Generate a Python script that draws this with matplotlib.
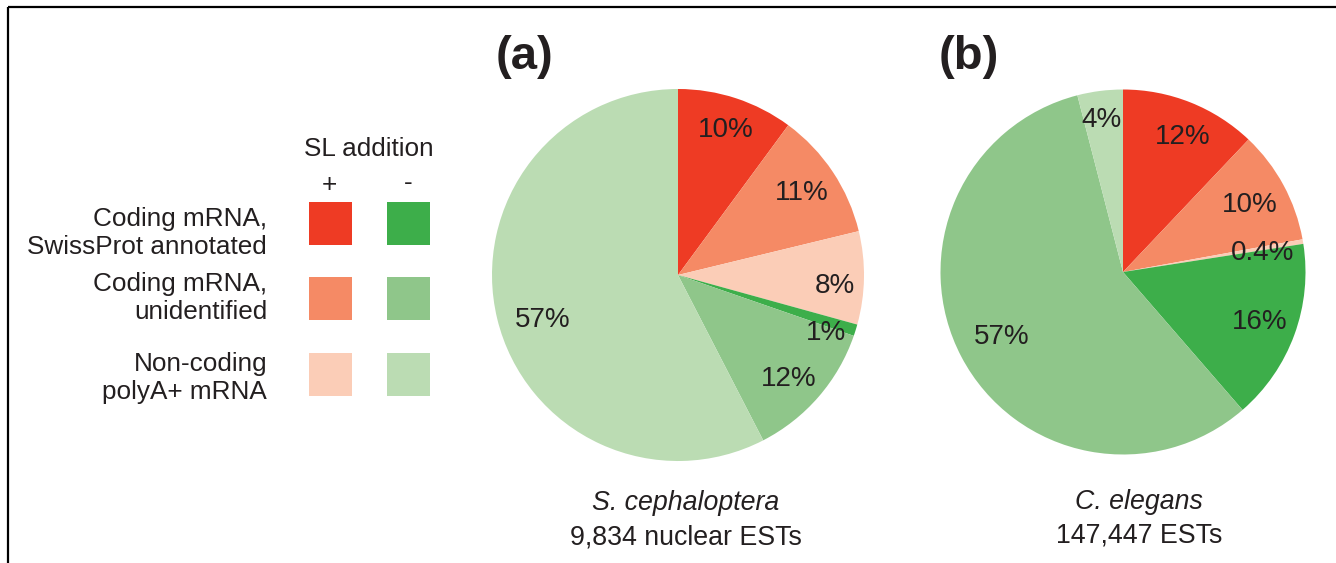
import matplotlib
matplotlib.use("Agg")
import matplotlib.pyplot as plt
from matplotlib.patches import Rectangle
import numpy as np

plt.rcParams['font.family'] = ['Liberation Sans', 'DejaVu Sans']

# ---- data ----
categories = ["Coding mRNA,\nSwissProt annotated",
              "Coding mRNA,\nunidentified",
              "Non-coding\npolyA+ mRNA"]
sl_plus_colors = ["#EE3B24", "#F58A65", "#FBCDB7"]
sl_minus_colors = ["#3DAE4A", "#8FC68A", "#BBDCB3"]

# slice order: +coding annotated, +coding unid, +noncoding, -coding annotated, -coding unid, -noncoding
a_values = [10, 11, 8, 1, 12, 57]
b_values = [12, 10, 0.4, 16, 57, 4]
slice_colors = sl_plus_colors + sl_minus_colors

# label placement style (fraction of radius, angular nudge in degrees)
a_label_dist = [0.836, 0.808, 0.845, 0.846, 0.807, 0.760]
a_label_dang = [0.4, 0.8, -2.0, -3.1, -1.4, 3.7]
b_label_dist = [0.826, 0.792, 0.775, 0.794, 0.746, 0.857]
b_label_dang = [-1.7, 0.6, -0.8, 1.1, -0.5, 0.5]

a_title = ("(a)", "S. cephaloptera", "9,834 nuclear ESTs")
b_title = ("(b)", "C. elegans", "147,447 ESTs")

W, H = 1336, 563
fig = plt.figure(figsize=(W / 100, H / 100), dpi=100)
txt = "#231F20"

# overlay axes in pixel coordinates
ov = fig.add_axes([0, 0, 1, 1])
ov.set_xlim(0, W)
ov.set_ylim(H, 0)
ov.axis("off")

# frame lines (left and top)
ov.plot([8, 8], [7, H], color="black", lw=1.6, solid_capstyle="butt")
ov.plot([8, W], [7, 7], color="black", lw=1.6, solid_capstyle="butt")


def draw_pie(cx, cy, r, values, dists, dangs, titles, title_dx, sub_y):
    ax = fig.add_axes([(cx - r) / W, (H - cy - r) / H, 2 * r / W, 2 * r / H])
    wedges, _ = ax.pie(values, colors=slice_colors, startangle=90,
                       counterclock=False, radius=1,
                       wedgeprops=dict(linewidth=0, antialiased=True))
    ax.set_xlim(-1, 1)
    ax.set_ylim(-1, 1)
    ax.set_aspect("equal")
    ax.axis("off")
    for w, v, d, da in zip(wedges, values, dists, dangs):
        ang = np.deg2rad((w.theta1 + w.theta2) / 2 + da)
        ax.text(d * np.cos(ang), d * np.sin(ang), f"{v:g}%",
                ha="center", va="center_baseline", fontsize=20, color=txt)
    ov.text(cx - 154, 57, titles[0], fontsize=34, fontweight="bold",
            ha="center", va="center", color=txt)
    ov.text(cx + title_dx, sub_y[0], titles[1], fontsize=19.3, style="italic",
            ha="center", va="center_baseline", color=txt)
    ov.text(cx + title_dx, sub_y[1], titles[2], fontsize=19.3,
            ha="center", va="center_baseline", color=txt)


draw_pie(678, 275, 186, a_values, a_label_dist, a_label_dang, a_title, 8, (500, 534))
draw_pie(1123, 272, 182.5, b_values, b_label_dist, b_label_dang, b_title, 16, (499, 533))

# legend
ov.text(369, 147, "SL addition", fontsize=18.8, ha="center", va="center_baseline", color=txt)
ov.text(329, 183, "+", fontsize=18.8, ha="center", va="center_baseline", color=txt)
ov.text(408, 181, "-", fontsize=18.8, ha="center", va="center_baseline", color=txt)
row_tops = [202, 277, 353]
text_centers = [233, 298, 378]
for cat, cp, cm, top, tc in zip(categories, sl_plus_colors, sl_minus_colors, row_tops, text_centers):
    ov.add_patch(Rectangle((309, top), 43, 43, facecolor=cp, edgecolor="none"))
    ov.add_patch(Rectangle((387, top), 43, 43, facecolor=cm, edgecolor="none"))
    ov.text(267, tc, cat, fontsize=18.8, ha="right", va="center",
            color=txt, linespacing=1.2)

fig.savefig("out.png", dpi=100)
